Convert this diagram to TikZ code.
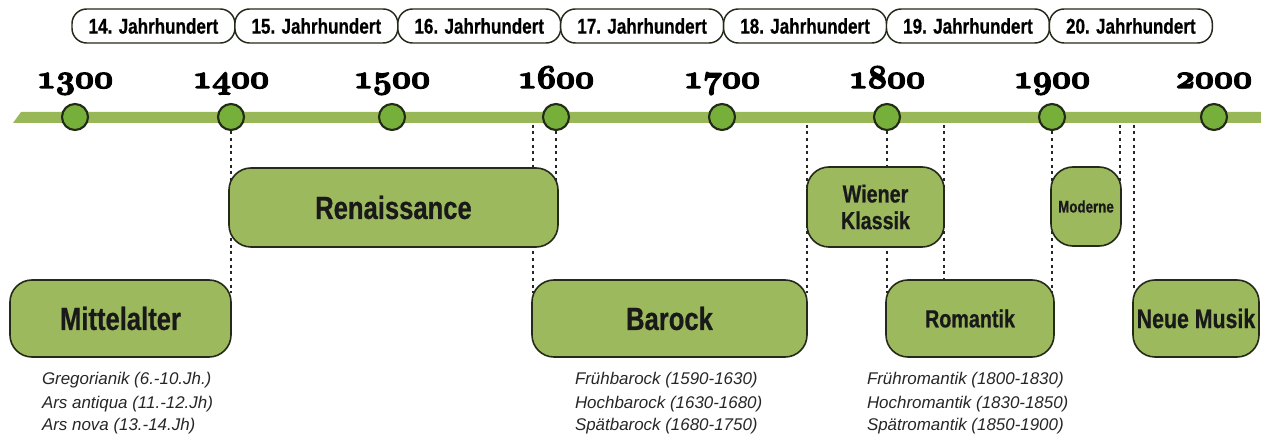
\documentclass[tikz,border=0pt]{standalone}
\usepackage{fontspec}
\setmainfont{Liberation Sans}
\newfontfamily\condf[FakeStretch=0.8,BoldFeatures={FakeBold=0.6}]{Liberation Sans}
\newcommand\yearfont{\fontsize{24}{24}\usefont{OML}{cmm}{b}{it}}
\newcommand\heavy[1]{\special{pdf:literal direct 2 Tr 0.9 w}#1\special{pdf:literal direct 0 Tr}}
\pgfdeclarelayer{bg}
\pgfsetlayers{bg,main}
\definecolor{boxg}{RGB}{157,185,94}
\definecolor{barg}{RGB}{152,184,88}
\definecolor{knobg}{RGB}{118,176,58}
\definecolor{edge}{RGB}{35,42,25}
\begin{document}
\begin{tikzpicture}[x=0.75pt,y=-0.75pt,
  every node/.style={inner sep=0pt, outer sep=0pt},
  era/.style={draw=edge, line width=1.2pt, fill=boxg, rounded corners=16.5pt, align=center, text=black!90, font=\condf\bfseries},
  cent/.style={draw=edge, line width=1.1pt, fill=white, rounded corners=11pt, minimum width=162.9*0.75pt, minimum height=34*0.75pt, font=\condf\bfseries\fontsize{16}{18}\selectfont},
  yr/.style={font=\yearfont, anchor=base},
  knob/.style={circle, draw=edge, line width=1.6pt, fill=knobg, minimum size=26*0.75pt},
  dotline/.style={draw=black!85, line width=1.5pt, dash pattern=on 2.2pt off 2.8pt},
  note/.style={anchor=base west, font=\itshape\fontsize{12.7}{15}\selectfont, text=black!85}]
\useasboundingbox (0,0) rectangle (1261,438);

% century boxes
\node[cent] (j14) at (153.45,26) {14. Jahrhundert};
\node[cent] (j15) at (316.35,26) {15. Jahrhundert};
\node[cent] (j16) at (479.25,26) {16. Jahrhundert};
\node[cent] (j17) at (642.15,26) {17. Jahrhundert};
\node[cent] (j18) at (805.05,26) {18. Jahrhundert};
\node[cent] (j19) at (967.95,26) {19. Jahrhundert};
\node[cent] (j20) at (1130.85,26) {20. Jahrhundert};

% years
\node[yr] (y1300) at (75,88) {\heavy{1300}};
\node[yr] (y1400) at (231,88) {\heavy{1400}};
\node[yr] (y1500) at (392,88) {\heavy{1500}};
\node[yr] (y1600) at (556,88) {\heavy{1600}};
\node[yr] (y1700) at (722,88) {\heavy{1700}};
\node[yr] (y1800) at (887,88) {\heavy{1800}};
\node[yr] (y1900) at (1052,88) {\heavy{1900}};
\node[yr] (y2000) at (1214,88) {\heavy{2000}};

% bar
\fill[barg] (13,123) -- (21,112) -- (1261,112) -- (1261,123) -- cycle;

% knobs
\node[knob] (c1300) at (75,117) {};
\node[knob] (c1400) at (231,117) {};
\node[knob] (c1500) at (392,117) {};
\node[knob] (c1600) at (556,117) {};
\node[knob] (c1700) at (722,117) {};
\node[knob] (c1800) at (887,117) {};
\node[knob] (c1900) at (1052,117) {};
\node[knob] (c2000) at (1214,117) {};

% era boxes
\node[era, minimum width=221*0.75pt, minimum height=77*0.75pt, font=\condf\bfseries\fontsize{24}{24}\selectfont] (mitt) at (120.5,318.5) {Mittelalter};
\node[era, minimum width=329*0.75pt, minimum height=79*0.75pt, font=\condf\bfseries\fontsize{24}{24}\selectfont] (ren) at (393.5,207.5) {Renaissance};
\node[era, minimum width=275*0.75pt, minimum height=77*0.75pt, font=\condf\bfseries\fontsize{24}{24}\selectfont] (baro) at (669.5,318.5) {Barock};
\node[era, minimum width=137*0.75pt, minimum height=80*0.75pt, font=\condf\bfseries\fontsize{18.5}{20}\selectfont] (wk) at (875.5,207) {Wiener\\Klassik};
\node[era, minimum width=168*0.75pt, minimum height=77*0.75pt, font=\condf\bfseries\fontsize{18.5}{20}\selectfont] (rom) at (970,318.5) {Romantik};
\node[era, minimum width=70*0.75pt, minimum height=79*0.75pt, font=\condf\bfseries\fontsize{12.5}{14}\selectfont] (mod) at (1086,206.5) {Moderne};
\node[era, minimum width=126*0.75pt, minimum height=77*0.75pt, font=\condf\bfseries\fontsize{20}{22}\selectfont] (neu) at (1196,318.5) {Neue Musik};

% dotted guide lines
\coordinate (t1) at (231,118); \coordinate (e1) at (231,293);
\coordinate (t2) at (533,118); \coordinate (e2) at (533,293);
\coordinate (t3) at (556,118); \coordinate (e3) at (556,190);
\coordinate (t4) at (807,118); \coordinate (e4) at (807,293);
\coordinate (t5) at (887,118); \coordinate (e5) at (887,293);
\coordinate (t6) at (944,118); \coordinate (e6) at (944,282);
\coordinate (t7) at (1052,118); \coordinate (e7) at (1052,293);
\coordinate (t8) at (1120,118); \coordinate (e8) at (1120,195);
\coordinate (t9) at (1134,118); \coordinate (e9) at (1134,290);
\begin{pgfonlayer}{bg}
\foreach \i in {1,...,9} \draw[dotline] (t\i) -- (e\i);
\end{pgfonlayer}

% notes
\node[note] (m1) at (42,385) {Gregorianik (6.-10.Jh.)};
\node[note] (m2) at (42,408) {Ars antiqua (11.-12.Jh)};
\node[note] (m3) at (42,431) {Ars nova (13.-14.Jh)};
\node[note] (b1) at (575,385) {Frühbarock (1590-1630)};
\node[note] (b2) at (575,408) {Hochbarock (1630-1680)};
\node[note] (b3) at (575,431) {Spätbarock (1680-1750)};
\node[note] (r1) at (867,385) {Frühromantik (1800-1830)};
\node[note] (r2) at (867,408) {Hochromantik (1830-1850)};
\node[note] (r3) at (867,431) {Spätromantik (1850-1900)};
\end{tikzpicture}
\end{document}
